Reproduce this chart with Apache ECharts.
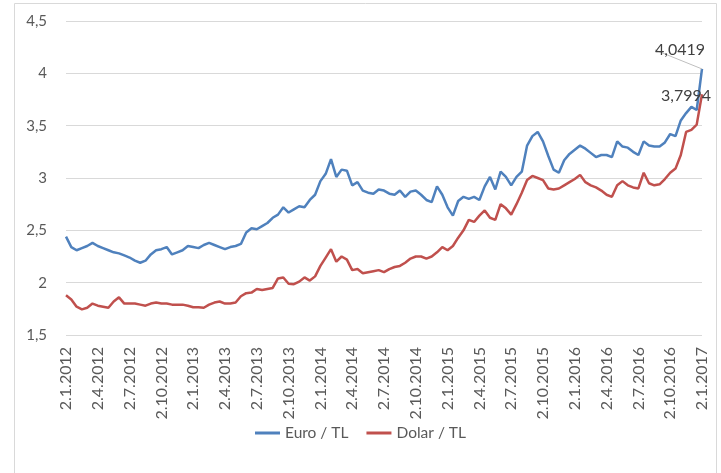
<!DOCTYPE html>
<html lang="tr">

<head>
    <meta charset="UTF-8">
    <title>Euro / TL - Dolar / TL</title>
    <style>
        html, body { margin: 0; padding: 0; background: #fff; }
        #chart { width: 721px; height: 473px; }
    </style>
</head>

<body>
    <div id="chart"></div>

    <script src="https://cdn.jsdelivr.net/npm/echarts@6/dist/echarts.min.js"></script>
    <script>
        // semi-monthly observations, 2.1.2012 .. 2.1.2017
        const years = [2012, 2013, 2014, 2015, 2016]

        const euro = [
            2.44, 2.34, 2.31, 2.33, 2.35, 2.38, 2.35, 2.33, 2.31, 2.29, 2.28, 2.26,
            2.24, 2.21, 2.19, 2.21, 2.27, 2.31, 2.32, 2.34, 2.27, 2.29, 2.31, 2.35,
            2.34, 2.33, 2.36, 2.38, 2.36, 2.34, 2.32, 2.34, 2.35, 2.37, 2.48, 2.52,
            2.51, 2.54, 2.57, 2.62, 2.65, 2.72, 2.67, 2.70, 2.73, 2.72, 2.79, 2.84,
            2.97, 3.04, 3.18, 3.01, 3.08, 3.07, 2.93, 2.96, 2.88, 2.86, 2.85, 2.89,
            2.88, 2.85, 2.84, 2.88, 2.82, 2.87, 2.88, 2.84, 2.79, 2.77, 2.92, 2.84,
            2.72, 2.64, 2.78, 2.82, 2.80, 2.82, 2.79, 2.92, 3.01, 2.89, 3.06, 3.01,
            2.93, 3.01, 3.06, 3.31, 3.40, 3.44, 3.35, 3.21, 3.08, 3.05, 3.17, 3.23,
            3.27, 3.31, 3.28, 3.24, 3.20, 3.22, 3.22, 3.20, 3.35, 3.30, 3.29, 3.25,
            3.22, 3.35, 3.31, 3.30, 3.30, 3.34, 3.42, 3.40, 3.55, 3.62, 3.68, 3.65,
            4.0419
        ]

        const dolar = [
            1.88, 1.84, 1.77, 1.745, 1.76, 1.80, 1.78, 1.77, 1.76, 1.82, 1.86, 1.80,
            1.80, 1.80, 1.79, 1.78, 1.80, 1.81, 1.80, 1.80, 1.79, 1.79, 1.79, 1.78,
            1.765, 1.765, 1.76, 1.79, 1.81, 1.82, 1.80, 1.80, 1.81, 1.87, 1.90, 1.905,
            1.94, 1.93, 1.94, 1.95, 2.04, 2.05, 1.99, 1.985, 2.01, 2.05, 2.02, 2.06,
            2.16, 2.24, 2.32, 2.20, 2.25, 2.22, 2.12, 2.13, 2.09, 2.10, 2.11, 2.12,
            2.10, 2.13, 2.15, 2.16, 2.19, 2.23, 2.25, 2.25, 2.23, 2.25, 2.29, 2.34,
            2.31, 2.35, 2.43, 2.50, 2.60, 2.58, 2.64, 2.69, 2.62, 2.60, 2.75, 2.71,
            2.65, 2.75, 2.86, 2.98, 3.02, 3.00, 2.98, 2.90, 2.89, 2.90, 2.93, 2.96,
            2.99, 3.03, 2.96, 2.93, 2.91, 2.88, 2.84, 2.82, 2.93, 2.97, 2.93, 2.91,
            2.90, 3.05, 2.95, 2.93, 2.94, 2.99, 3.05, 3.09, 3.22, 3.44, 3.46, 3.51,
            3.7994
        ]

        // tick labels shown on the axis
        const tickDays = ['2.1', '2.4', '2.7', '2.10']

        const dates = []
        for (let y of years) {
            for (let m = 1; m <= 12; m++) {
                dates.push('2.' + m + '.' + y)
                dates.push('16.' + m + '.' + y)
            }
        }
        dates.push('2.1.2017')

        const comma = v => String(v).replace('.', ',')
        const font = 'Lato, "Open Sans", sans-serif'

        // only the last point carries a value label
        function withEndLabel(arr, label) {
            return arr.map((v, i) => i === arr.length - 1 ? { value: v, label: label } : v)
        }

        const myChart = echarts.init(document.getElementById('chart'))

        const option = {
            animation: false,
            graphic: [{
                type: 'rect',
                shape: { x: 14.5, y: 3.5, width: 702, height: 470 },
                style: { fill: 'none', stroke: '#d9d9d9', lineWidth: 1 },
                silent: true
            }],
            grid: {
                left: 66,
                right: 19,
                top: 21,
                bottom: 138
            },
            legend: {
                bottom: 27,
                left: 'center',
                icon: 'rect',
                itemWidth: 25,
                itemHeight: 3,
                itemGap: 18,
                textStyle: { fontFamily: font, fontSize: 15.5, color: '#595959' },
                data: ['Euro / TL', 'Dolar / TL']
            },
            xAxis: {
                type: 'category',
                data: dates,
                boundaryGap: false,
                axisLine: { show: false },
                axisTick: { show: false },
                axisLabel: {
                    rotate: 90,
                    margin: 12,
                    fontFamily: font,
                    fontSize: 16,
                    color: '#595959',
                    interval: (idx, val) => {
                        let p = val.split('.')
                        return tickDays.includes(p[0] + '.' + p[1])
                    }
                }
            },
            yAxis: {
                type: 'value',
                min: 1.5,
                max: 4.5,
                interval: 0.5,
                axisLine: { show: false },
                axisTick: { show: false },
                splitLine: { lineStyle: { color: '#d9d9d9', width: 1 } },
                axisLabel: {
                    margin: 19,
                    fontFamily: font,
                    fontSize: 15,
                    color: '#595959',
                    formatter: v => comma(v)
                }
            },
            series: [{
                name: 'Euro / TL',
                type: 'line',
                data: withEndLabel(euro, {
                    show: true,
                    position: 'top',
                    fontFamily: font,
                    fontSize: 16,
                    color: '#404040',
                    formatter: p => comma(p.value)
                }),
                symbol: 'circle',
                symbolSize: 0,
                showAllSymbol: true,
                lineStyle: { color: '#4f81bd', width: 2.5 },
                itemStyle: { color: '#4f81bd' },
                labelLayout: { dx: -22, dy: -6 },
                labelLine: { show: true, lineStyle: { color: '#bfbfbf', width: 1 } }
            }, {
                name: 'Dolar / TL',
                type: 'line',
                data: withEndLabel(dolar, {
                    show: true,
                    position: 'inside',
                    offset: [-16, 2],
                    fontFamily: font,
                    fontSize: 16,
                    color: '#404040',
                    formatter: p => comma(p.value)
                }),
                symbol: 'circle',
                symbolSize: 0,
                showAllSymbol: true,
                lineStyle: { color: '#c0504d', width: 2.5 },
                itemStyle: { color: '#c0504d' }
            }]
        }

        myChart.setOption(option)
    </script>
</body>

</html>
